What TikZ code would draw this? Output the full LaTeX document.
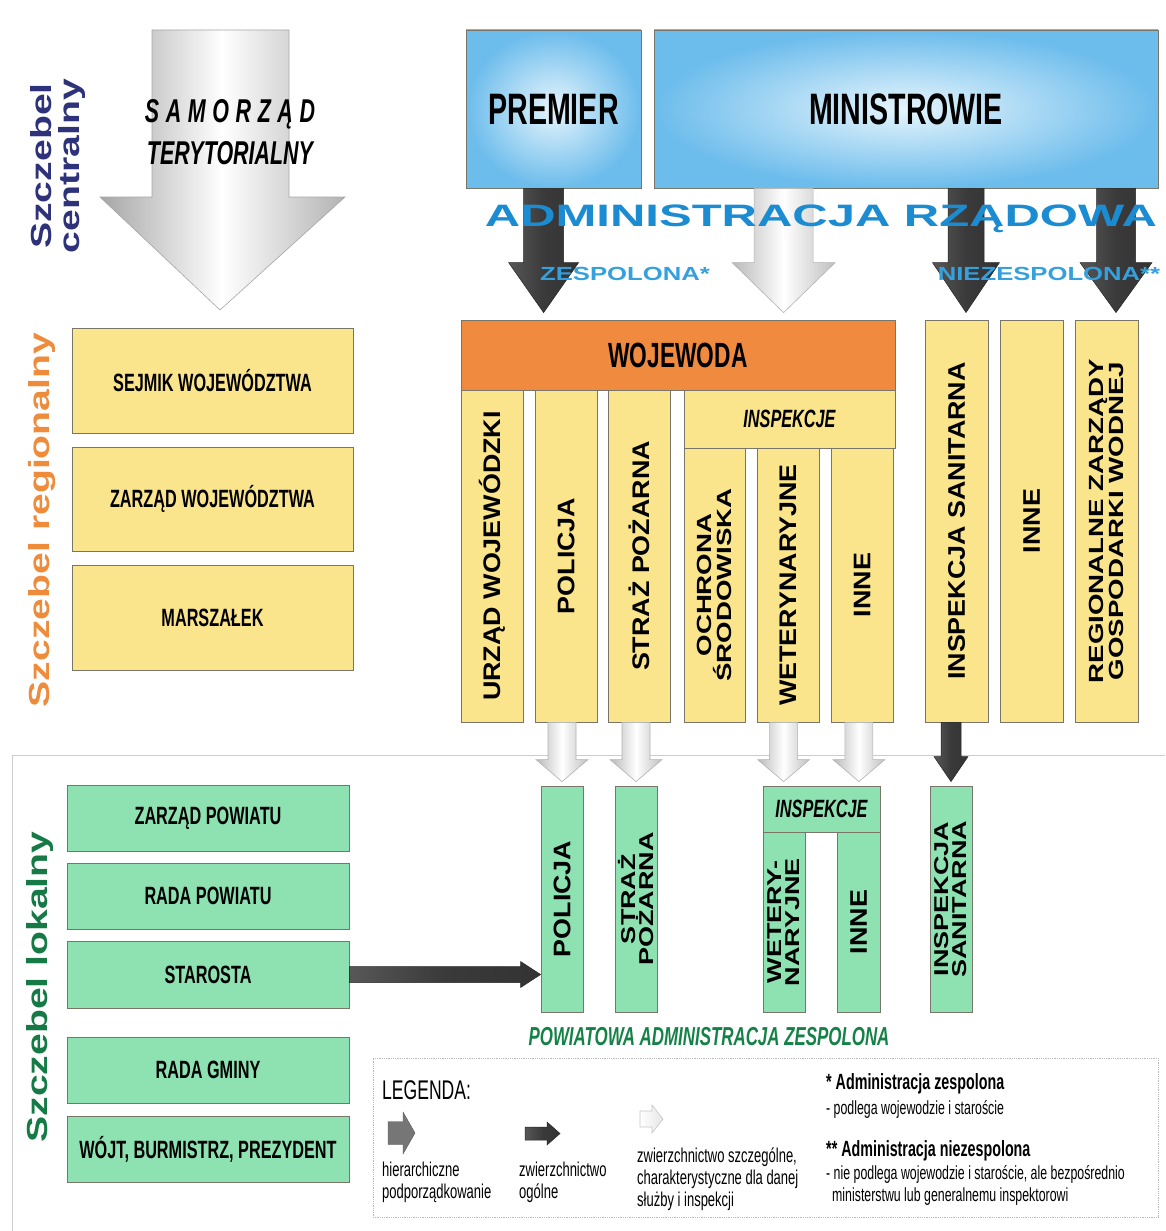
\documentclass[tikz,border=0pt]{standalone}
\usepackage{fontspec}
\usepackage{tikz}
\usepackage{xcolor}
\usetikzlibrary{positioning, calc}
\setmainfont{Liberation Sans}
\newfontfamily\narrowfont[FakeStretch=0.65]{Liberation Sans}
\newfontfamily\colfont[FakeStretch=1.12]{Liberation Sans}
\newfontfamily\widefont[FakeStretch=1.35]{Liberation Sans}
\newfontfamily\extfont[FakeStretch=1.58]{Liberation Sans}

\definecolor{boxyellow}{RGB}{250,229,140}
\definecolor{boxgreen}{RGB}{142,226,178}
\definecolor{wojorange}{RGB}{240,138,62}
\definecolor{skyout}{RGB}{108,188,236}
\definecolor{skyin}{RGB}{230,245,252}
\definecolor{darkarr}{RGB}{58,58,58}
\definecolor{leggray}{RGB}{118,118,118}
\definecolor{rzadblue}{RGB}{28,140,210}
\definecolor{zesblue}{RGB}{52,160,222}
\definecolor{centnavy}{RGB}{45,50,122}
\definecolor{regorange}{RGB}{238,140,60}
\definecolor{lokgreen}{RGB}{22,122,70}
\definecolor{powgreen}{RGB}{20,130,70}
\definecolor{edge}{RGB}{120,118,105}

\newcommand{\barrow}[6]{%
  \path[#1] let \p1=(#2), \p2=(#3) in
    (\x2-#4pt,\y1) -- (\x2+#4pt,\y1) -- (\x2+#4pt,\y2+#6pt)
    -- (\x2+#5pt,\y2+#6pt) -- (\x2,\y2) -- (\x2-#5pt,\y2+#6pt)
    -- (\x2-#4pt,\y2+#6pt) -- cycle;}
\newcommand{\rarrow}[6]{%
  \path[#1] let \p1=(#2), \p2=(#3) in
    (\x1,\y1+#4pt) -- (\x2-#6pt,\y1+#4pt) -- (\x2-#6pt,\y1+#5pt)
    -- (\x2,\y1) -- (\x2-#6pt,\y1-#5pt) -- (\x2-#6pt,\y1-#4pt)
    -- (\x1,\y1-#4pt) -- cycle;}

\tikzset{
  box/.style={draw=edge, line width=0.8pt, inner sep=0pt, align=center},
  ybox/.style={box, fill=boxyellow},
  gbox/.style={box, fill=boxgreen},
  sz/.style 2 args={minimum width=#1, minimum height=#2},
  vsz/.style 2 args={rotate=90, minimum width=#2, minimum height=#1},
  hlab/.style={font=\narrowfont\bfseries\fontsize{25}{27}\selectfont},
  ilab/.style={font=\narrowfont\bfseries\itshape\fontsize{25}{25}\selectfont},
  vlab/.style={font=\colfont\bfseries\fontsize{24}{21}\selectfont},
  vlabtwo/.style={font=\widefont\bfseries\fontsize{20.5}{20}\selectfont},
  vlabsm/.style={font=\widefont\bfseries\fontsize{20}{18}\selectfont},
  lvl/.style={rotate=90, align=center, font=\widefont\bfseries\fontsize{29}{28}\selectfont},
  darkarrow/.style={draw=black!85, line width=0.5pt, left color=darkarr!85, right color=black!80, middle color=darkarr},
  lightarrow/.style={draw=gray!60, line width=0.6pt, left color=gray!55, right color=gray!50, middle color=white},
  legtext/.style={anchor=north west, inner sep=0pt, align=left, font=\narrowfont\fontsize{20}{22}\selectfont},
}

\begin{document}
\begin{tikzpicture}[x=1pt, y=-1pt]
\useasboundingbox (0,0) rectangle (1165,1231);

\draw[gray!40, line width=0.8pt] (1165,755) -- (12,755) -- (12,1231);

\path[draw=gray!70, line width=0.6pt, left color=gray!70, right color=gray!60, middle color=white]
  (152,30) -- (289,30) -- (289,197) -- (345,197) -- (220,310) -- (100,197) -- (152,197) -- cycle;
\node[align=center, font=\narrowfont\bfseries\itshape\fontsize{33}{42}\selectfont] (samorzad) at (230,132)
  {{\addfontfeature{LetterSpace=20}SAMORZĄD}\\TERYTORIALNY};

\node[lvl, text=centnavy] (centr) at (58,166) {Szczebel\\centralny};
\node[lvl, text=regorange] (region) at (42,520) {Szczebel regionalny};
\node[lvl, text=lokgreen] (lokal) at (40,987) {Szczebel lokalny};

\node[box, sz={175}{158}, inner color=skyin, outer color=skyout, font=\narrowfont\bfseries\fontsize{44}{44}\selectfont] (premier) at (553.5,109) {PREMIER};
\node[box, sz={504}{158}, inner color=skyin, outer color=skyout, font=\narrowfont\bfseries\fontsize{44}{44}\selectfont] (ministr) at (906,109) {MINISTROWIE};

\node[ybox, sz={281}{105}, hlab] (sejmik) at (212.5,380.5) {SEJMIK WOJEWÓDZTWA};
\node[ybox, sz={281}{104}, hlab] (zarwoj) at (212.5,499) {ZARZĄD WOJEWÓDZTWA};
\node[ybox, sz={281}{105}, hlab] (marsz) at (212.5,617.5) {MARSZAŁEK};

\node[box, fill=wojorange, sz={434}{70}, font=\narrowfont\bfseries\fontsize{35}{35}\selectfont] (woj) at (678,355) {WOJEWODA};
\node[ybox, vsz={62}{332}, vlab] (urzad) at (492,556) {URZĄD WOJEWÓDZKI};
\node[ybox, vsz={62}{332}, vlab] (policja) at (566,556) {POLICJA};
\node[ybox, vsz={62}{332}, vlab] (straz) at (639,556) {STRAŻ POŻARNA};
\node[ybox, sz={211}{58}, ilab] (insp) at (789.5,419) {INSPEKCJE};
\node[ybox, vsz={61}{274}, vlabtwo] (ochr) at (714.5,585) {OCHRONA\\ŚRODOWISKA};
\node[ybox, vsz={62}{274}, vlab] (weter) at (788,585) {WETERYNARYJNE};
\node[ybox, vsz={62}{274}, vlab] (inneA) at (862,585) {INNE};
\node[ybox, vsz={63}{402}, vlab] (sanit) at (956.5,521) {INSPEKCJA SANITARNA};
\node[ybox, vsz={63}{402}, vlab] (inneB) at (1031.5,521) {INNE};
\node[ybox, vsz={63}{402}, vlabtwo] (rzgw) at (1106.5,521) {REGIONALNE ZARZĄDY\\GOSPODARKI WODNEJ};

\node[gbox, vsz={42}{226}, vlab] (pol2) at (562,899) {POLICJA};
\node[gbox, vsz={42}{226}, vlabsm] (str2) at (636,899) {STRAŻ\\POŻARNA};
\node[gbox, sz={117}{46}, ilab] (insp2) at (821.5,809) {INSPEKCJE};
\node[gbox, vsz={42}{180}, vlabsm] (wet2) at (784,922) {WETERY-\\NARYJNE};
\node[gbox, vsz={43}{180}, vlab] (inne3) at (858.5,922) {INNE};
\node[gbox, vsz={42}{226}, vlabsm] (san2) at (951,899) {INSPEKCJA\\SANITARNA};

\node[gbox, sz={282}{66}, hlab] (zpow) at (208,818) {ZARZĄD POWIATU};
\node[gbox, sz={282}{66}, hlab] (rpow) at (208,896) {RADA POWIATU};
\node[gbox, sz={282}{67}, hlab] (star) at (208,974.5) {STAROSTA};
\node[gbox, sz={282}{66}, hlab] (rgm) at (208,1070) {RADA GMINY};
\node[gbox, sz={282}{66}, hlab] (wojt) at (208,1149) {WÓJT, BURMISTRZ, PREZYDENT};

\barrow{darkarrow}{premier.south}{$(woj.north west)+(83,-7)$}{20}{35}{50}
\barrow{lightarrow}{ministr.south}{$(woj.north west)+(323,-7)$}{29.5}{51.5}{50}
\barrow{darkarrow}{ministr.south}{$(sanit.east)+(9.5,-7)$}{18}{33.5}{50}
\barrow{darkarrow}{ministr.south}{$(rzgw.east)+(9.5,-7)$}{19.5}{36}{50}

\barrow{lightarrow}{policja.west}{$(pol2.east)+(0,-4)$}{14}{26}{22}
\barrow{lightarrow}{straz.west}{$(str2.east)+(0,-4)$}{14}{26}{22}
\barrow{lightarrow}{weter.west}{$(insp2.north west)+(21,-4)$}{14}{26}{22}
\barrow{lightarrow}{inneA.west}{$(insp2.north east)+(-21.5,-4)$}{14}{26}{22}
\barrow{darkarrow}{sanit.west}{$(san2.east)+(0,-4)$}{10}{17}{25}
\rarrow{darkarrow}{star.east}{star.east -| pol2.north}{8}{13}{20}

\node[font=\extfont\bfseries\fontsize{31}{31}\selectfont, text=rzadblue] (admin) at (821,219) {ADMINISTRACJA RZĄDOWA};
\node[font=\widefont\bfseries\fontsize{19}{19}\selectfont, text=zesblue] (zesp) at (625,274) {ZESPOLONA*};
\node[font=\widefont\bfseries\fontsize{19}{19}\selectfont, text=zesblue] (niezesp) at (1049,274) {NIEZESPOLONA**};

\node[font=\narrowfont\bfseries\itshape\fontsize{26}{26}\selectfont, text=powgreen] (powiat) at (709,1037) {POWIATOWA ADMINISTRACJA ZESPOLONA};

\node[draw=gray!55, densely dotted, line width=0.8pt, inner sep=0pt, sz={785}{159}] (legbox) at (765.5,1137.5) {};
\node[anchor=west, inner sep=0pt, font=\narrowfont\fontsize{27}{27}\selectfont] (legtit) at (382,1090) {LEGENDA:};

\coordinate (hA) at (388,1133);
\coordinate (hB) at (415,1133);
\coordinate (zA) at (525,1133.5);
\coordinate (zB) at (560,1133.5);
\coordinate (sA) at (640,1119);
\coordinate (sB) at (663,1119);
\rarrow{fill=leggray, draw=gray!70!black, line width=0.4pt}{hA}{hB}{11.5}{21}{12}
\rarrow{darkarrow}{zA}{zB}{6.5}{11.5}{13}
\rarrow{draw=gray!45, line width=0.6pt, left color=white, right color=gray!20}{sA}{sB}{8}{14}{11}

\node[legtext] (hier) at (382,1162) {hierarchiczne\\podporządkowanie};
\node[legtext] (zwog) at (519,1162) {zwierzchnictwo\\ogólne};
\node[legtext] (zwsz) at (637,1148) {zwierzchnictwo szczególne,\\charakterystyczne dla danej\\służby i inspekcji};
\node[legtext, font=\narrowfont\bfseries\fontsize{22}{24}\selectfont] (adzes) at (826,1073) {* Administracja zespolona};
\node[legtext, font=\narrowfont\fontsize{19}{22}\selectfont] (adzes2) at (826,1100) {- podlega wojewodzie i staroście};
\node[legtext, font=\narrowfont\bfseries\fontsize{22}{24}\selectfont] (adnie) at (826,1140) {** Administracja niezespolona};
\node[legtext, font=\narrowfont\fontsize{19}{22}\selectfont] (adnie2) at (826,1165) {- nie podlega wojewodzie i staroście, ale bezpośrednio\\\hspace*{6pt}ministerstwu lub generalnemu inspektorowi};
\end{tikzpicture}
\end{document}
